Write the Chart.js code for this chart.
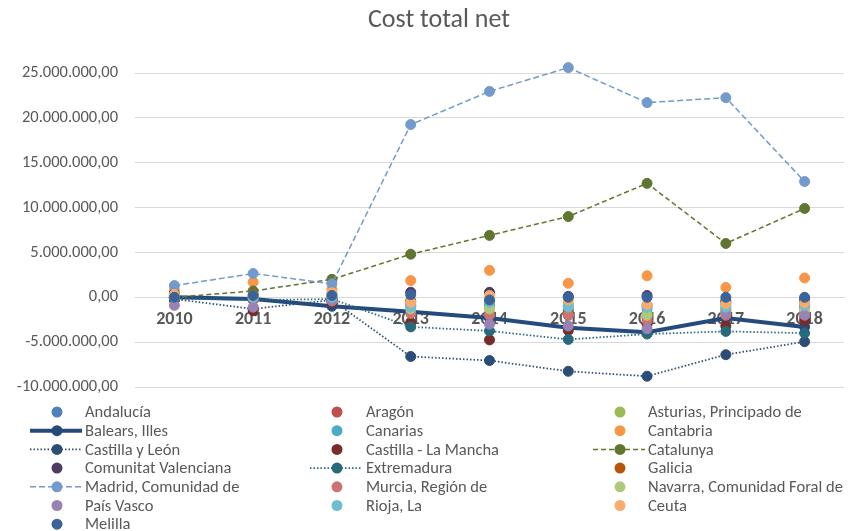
<!DOCTYPE html>
<html>
<head>
<meta charset="utf-8">
<script src="https://cdn.jsdelivr.net/npm/chart.js@4.4.0/dist/chart.umd.min.js"></script>
<style>
  html, body { margin: 0; padding: 0; background: #fff; }
  #wrap { width: 850px; height: 531px; }
</style>
</head>
<body>
<div id="wrap"><canvas id="chart"></canvas></div>
<script>
// years on the x axis
let years = ["2010", "2011", "2012", "2013", "2014", "2015", "2016", "2017", "2018"];

// values in euros (millions)
let andalucia   = [0.1, 0.0, 0.3, -0.5, -0.8, -1.0, -0.9, -0.6, -0.5];
let aragon      = [0.0, -0.1, -0.3, -1.5, -1.8, -2.0, -2.3, -2.5, -2.2];
let asturias    = [0.0, 0.0, 0.0, -0.9, -1.2, -0.7, -1.8, -1.5, -1.2];
let balears     = [0.0, -0.2, -1.0, -1.6, -2.3, -3.4, -3.9, -2.3, -3.3];
let canarias    = [0.0, 0.0, -0.2, -1.0, -0.8, -1.4, -1.3, -0.9, -0.8];
let cantabria   = [0.8, 1.7, 0.9, 1.86, 3.0, 1.56, 2.4, 1.1, 2.15];
let castLeon    = [-0.2, -1.3, -0.3, -6.6, -7.05, -8.25, -8.8, -6.4, -4.95];
let castMancha  = [-0.3, -1.5, -0.55, -2.8, -4.75, -3.7, -3.0, -3.2, -2.6];
let catalunya   = [0.0, 0.7, 2.0, 4.8, 6.9, 9.0, 12.7, 6.0, 9.9];
let valenciana  = [0.4, -0.1, -0.2, 0.56, 0.56, 0.1, 0.2, -0.4, -0.3];
let extremadura = [-0.1, -0.3, -0.2, -3.3, -3.75, -4.7, -4.1, -3.8, -4.0];
let galicia     = [0.2, 0.3, -0.4, -0.4, -0.5, -1.5, -2.1, -1.4, -1.0];
let madrid      = [1.3, 2.65, 1.5, 19.25, 22.95, 25.6, 21.7, 22.25, 12.9];
let murcia      = [0.0, -0.2, -0.4, -1.8, -2.0, -2.0, -2.6, -2.0, -1.6];
let navarra     = [0.0, 0.0, 0.0, -1.3, -1.3, -1.0, -2.0, -1.5, -1.4];
let paisVasco   = [-0.9, -1.1, -0.3, -0.9, -3.0, -3.2, -3.5, -1.8, -2.0];
let rioja       = [0.0, 0.0, 0.0, -1.1, -0.55, -1.1, -1.1, -1.1, -0.9];
let ceuta       = [0.3, 0.2, 0.5, -0.55, 0.2, -0.3, -0.8, -0.7, -0.6];
let melilla     = [0.0, 0.2, 0.2, 0.3, -0.3, 0.0, 0.0, 0.0, 0.0];

let yTicks = [-10000000, -5000000, 0, 5000000, 10000000, 15000000, 20000000, 25000000];

const FONT = "Carlito, Lato, sans-serif";
const GREY = "#595959";

function eur(v) { return v.map(x => x * 1000000); }

function fmt(v) {
    let neg = v < 0;
    let s = Math.round(Math.abs(v)).toString();
    s = s.replace(/\B(?=(\d{3})+(?!\d))/g, ".");
    return (neg ? "-" : "") + s + ",00";
}

function dots(label, data, color) {
    return { label: label, data: eur(data), color: color, showLine: false };
}
function line(label, data, color, width, dash) {
    return { label: label, data: eur(data), color: color, showLine: true, width: width, dash: dash };
}

let series = [
    dots("Andalucía", andalucia, "#4F81BD"),
    dots("Aragón", aragon, "#C0504D"),
    dots("Asturias, Principado de", asturias, "#9BBB59"),
    line("Balears, Illes", balears, "#254B7D", 4, []),
    dots("Canarias", canarias, "#4BACC6"),
    dots("Cantabria", cantabria, "#F79646"),
    line("Castilla y León", castLeon, "#2C4D75", 1.75, [1.5, 2]),
    dots("Castilla - La Mancha", castMancha, "#772C2A"),
    line("Catalunya", catalunya, "#5F7530", 1.5, [5, 3]),
    dots("Comunitat Valenciana", valenciana, "#4D3B62"),
    line("Extremadura", extremadura, "#276A7C", 1.75, [1.5, 2]),
    dots("Galicia", galicia, "#B65708"),
    line("Madrid, Comunidad de", madrid, "#729ACA", 1.5, [6, 3]),
    dots("Murcia, Región de", murcia, "#CD7371"),
    dots("Navarra, Comunidad Foral de", navarra, "#AFC97A"),
    dots("País Vasco", paisVasco, "#9983B5"),
    dots("Rioja, La", rioja, "#6FBDD1"),
    dots("Ceuta", ceuta, "#F9AB6B"),
    dots("Melilla", melilla, "#3A6399")
];

let datasets = series.map((s, i) => ({
    label: s.label,
    data: s.data,
    showLine: s.showLine,
    borderColor: s.color,
    backgroundColor: s.color,
    borderWidth: s.width || 0,
    borderDash: s.dash || [],
    pointRadius: 5,
    pointBorderWidth: 1,
    pointBackgroundColor: s.color,
    pointBorderColor: s.color,
    tension: 0,
    clip: false,
    order: -i
}));

// title + three-column legend drawn on the canvas
const extras = {
    id: "extras",
    afterDraw(chart) {
        let ctx = chart.ctx;
        ctx.save();
        ctx.fillStyle = GREY;
        ctx.font = "26px " + FONT;
        ctx.textAlign = "center";
        ctx.textBaseline = "middle";
        ctx.fillText("Cost total net", 439, 20);

        let colDot = [57, 337, 620];
        let colText = [85, 366, 648];
        ctx.font = "16.5px " + FONT;
        ctx.textAlign = "left";
        series.forEach((s, i) => {
            let c = i % 3, r = Math.floor(i / 3);
            let y = 412 + r * 18.7;
            if (s.showLine) {
                ctx.strokeStyle = s.color;
                ctx.lineWidth = s.width;
                ctx.setLineDash(s.dash);
                ctx.beginPath();
                ctx.moveTo(colDot[c] - 27, y);
                ctx.lineTo(colDot[c] + 25, y);
                ctx.stroke();
                ctx.setLineDash([]);
            }
            ctx.fillStyle = s.color;
            ctx.beginPath();
            ctx.arc(colDot[c], y, 5.5, 0, Math.PI * 2);
            ctx.fill();
            ctx.fillStyle = GREY;
            ctx.fillText(s.label, colText[c], y + 1);
        });
        ctx.restore();
    }
};

new Chart(document.getElementById("chart"), {
    type: "line",
    data: { labels: years, datasets: datasets },
    options: {
        responsive: true,
        maintainAspectRatio: false,
        animation: false,
        layout: { padding: { top: 73, bottom: 144, left: 0, right: -5 } },
        plugins: {
            legend: { display: false },
            title: { display: false },
            tooltip: { enabled: false }
        },
        scales: {
            x: {
                position: { y: 0 },
                offset: true,
                grid: { display: false, drawTicks: false },
                border: { display: true, color: "#D9D9D9", width: 1 },
                ticks: {
                    color: GREY,
                    padding: 11,
                    font: { family: FONT, size: 18, weight: "bold" },
                    maxRotation: 0
                }
            },
            y: {
                min: yTicks[0],
                max: yTicks[yTicks.length - 1],
                afterFit(scale) { scale.width = 135; },
                afterBuildTicks(scale) { scale.ticks = yTicks.map(v => ({ value: v })); },
                grid: { color: "#D9D9D9", lineWidth: 1, drawTicks: false },
                border: { display: false },
                ticks: {
                    color: GREY,
                    padding: 17,
                    font: { family: FONT, size: 16.5 },
                    callback: v => fmt(v)
                }
            }
        }
    },
    plugins: [extras]
});
</script>
</body>
</html>
